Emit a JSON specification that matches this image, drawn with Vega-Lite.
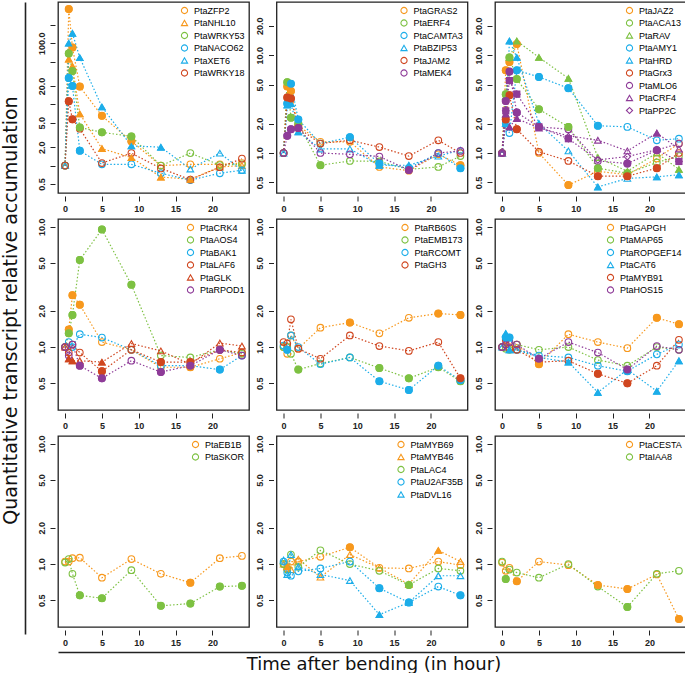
{
"$schema": "https://vega.github.io/schema/vega-lite/v6.json",
"padding": {"left": 1, "top": 1, "right": 0, "bottom": 0},
"background": "white",
"params": [{"name": "gc", "value": {
"PtaZFP2":"#F7981D","PtaNHL10":"#F7981D","PtaWRKY53":"#7DC142","PtaNACO62":"#1CADE9","PtaXET6":"#1CADE9","PtaWRKY18":"#D0461F",
"PtaGRAS2":"#F7981D","PtaERF4":"#7DC142","PtaCAMTA3":"#1CADE9","PtaBZIP53":"#1CADE9","PtaJAM2":"#D0461F","PtaMEK4":"#8E3B98",
"PtaJAZ2":"#F7981D","PtaACA13":"#7DC142","PtaRAV":"#7DC142","PtaAMY1":"#1CADE9","PtaHRD":"#1CADE9","PtaGrx3":"#D0461F","PtaMLO6":"#8E3B98","PtaCRF4":"#8E3B98","PtaPP2C":"#8E3B98",
"PtaCRK4":"#F7981D","PtaAOS4":"#7DC142","PtaBAK1":"#1CADE9","PtaLAF6":"#D0461F","PtaGLK":"#D0461F","PtaRPOD1":"#8E3B98",
"PtaRB60S":"#F7981D","PtaEMB173":"#7DC142","PtaRCOMT":"#1CADE9","PtaGH3":"#D0461F",
"PtaGAPGH":"#F7981D","PtaMAP65":"#7DC142","PtaROPGEF14":"#1CADE9","PtaCAT6":"#1CADE9","PtaMYB91":"#D0461F","PtaHOS15":"#8E3B98",
"PtaEB1B":"#F7981D","PtaSKOR":"#7DC142",
"PtaMYB69":"#F7981D","PtaMYB46":"#F7981D","PtaLAC4":"#7DC142","PtaU2AF35B":"#1CADE9","PtaDVL16":"#1CADE9",
"PtaCESTA":"#F7981D","PtaIAA8":"#7DC142"}}],
"config": {
  "view": {"stroke": "#222", "strokeWidth": 1.3},
  "axis": {"labelFont": "Liberation Sans", "labelFontSize": 9, "labelFontWeight": "bold", "labelColor": "#222", "tickColor": "#222", "tickWidth": 1},
  "legend": {"orient": "top-right", "offset": 4, "padding": 0, "labelFont": "Liberation Sans", "labelFontSize": 9, "symbolSize": 38, "symbolStrokeWidth": 1.1, "symbolFillColor": "transparent", "rowPadding": 1.5, "labelOffset": 5}
},
"datasets": {"d": [
{"p":1,"g":"PtaZFP2","t":0,"v":1,"s":0},{"p":1,"g":"PtaZFP2","t":0.5,"v":360,"s":1},{"p":1,"g":"PtaZFP2","t":1,"v":85,"s":1},{"p":1,"g":"PtaZFP2","t":2,"v":19.5,"s":1},{"p":1,"g":"PtaZFP2","t":5,"v":6.5,"s":1},{"p":1,"g":"PtaZFP2","t":9,"v":2.5,"s":1},{"p":1,"g":"PtaZFP2","t":13,"v":1.0,"s":0},{"p":1,"g":"PtaZFP2","t":17,"v":1.05,"s":0},{"p":1,"g":"PtaZFP2","t":21,"v":1.05,"s":0},{"p":1,"g":"PtaZFP2","t":24,"v":1.1,"s":0},
{"p":1,"g":"PtaNHL10","t":0,"v":1,"s":0},{"p":1,"g":"PtaNHL10","t":0.5,"v":55,"s":1},{"p":1,"g":"PtaNHL10","t":1,"v":42,"s":1},{"p":1,"g":"PtaNHL10","t":2,"v":7.0,"s":1},{"p":1,"g":"PtaNHL10","t":5,"v":1.9,"s":1},{"p":1,"g":"PtaNHL10","t":9,"v":1.35,"s":1},{"p":1,"g":"PtaNHL10","t":13,"v":0.65,"s":1},{"p":1,"g":"PtaNHL10","t":17,"v":0.6,"s":1},{"p":1,"g":"PtaNHL10","t":21,"v":0.95,"s":0},{"p":1,"g":"PtaNHL10","t":24,"v":1.0,"s":0},
{"p":1,"g":"PtaWRKY53","t":0,"v":1,"s":0},{"p":1,"g":"PtaWRKY53","t":0.5,"v":68,"s":1},{"p":1,"g":"PtaWRKY53","t":1,"v":35,"s":1},{"p":1,"g":"PtaWRKY53","t":2,"v":4.2,"s":1},{"p":1,"g":"PtaWRKY53","t":5,"v":3.5,"s":1},{"p":1,"g":"PtaWRKY53","t":9,"v":3.0,"s":1},{"p":1,"g":"PtaWRKY53","t":13,"v":1.0,"s":0},{"p":1,"g":"PtaWRKY53","t":17,"v":1.6,"s":0},{"p":1,"g":"PtaWRKY53","t":21,"v":1.02,"s":0},{"p":1,"g":"PtaWRKY53","t":24,"v":1.05,"s":0},
{"p":1,"g":"PtaNACO62","t":0,"v":1,"s":0},{"p":1,"g":"PtaNACO62","t":0.5,"v":27,"s":1},{"p":1,"g":"PtaNACO62","t":1,"v":20,"s":1},{"p":1,"g":"PtaNACO62","t":2,"v":1.75,"s":1},{"p":1,"g":"PtaNACO62","t":5,"v":1.05,"s":0},{"p":1,"g":"PtaNACO62","t":9,"v":1.05,"s":0},{"p":1,"g":"PtaNACO62","t":13,"v":0.75,"s":0},{"p":1,"g":"PtaNACO62","t":17,"v":0.58,"s":0},{"p":1,"g":"PtaNACO62","t":21,"v":0.75,"s":0},{"p":1,"g":"PtaNACO62","t":24,"v":0.84,"s":0},
{"p":1,"g":"PtaXET6","t":0,"v":1,"s":0},{"p":1,"g":"PtaXET6","t":0.5,"v":100,"s":1},{"p":1,"g":"PtaXET6","t":1,"v":145,"s":1},{"p":1,"g":"PtaXET6","t":2,"v":58,"s":1},{"p":1,"g":"PtaXET6","t":5,"v":9.1,"s":1},{"p":1,"g":"PtaXET6","t":9,"v":2.1,"s":1},{"p":1,"g":"PtaXET6","t":13,"v":2.0,"s":1},{"p":1,"g":"PtaXET6","t":17,"v":0.88,"s":0},{"p":1,"g":"PtaXET6","t":21,"v":1.6,"s":0},{"p":1,"g":"PtaXET6","t":24,"v":0.84,"s":0},
{"p":1,"g":"PtaWRKY18","t":0,"v":1,"s":0},{"p":1,"g":"PtaWRKY18","t":0.5,"v":11.3,"s":1},{"p":1,"g":"PtaWRKY18","t":1,"v":5.7,"s":1},{"p":1,"g":"PtaWRKY18","t":2,"v":4.0,"s":0},{"p":1,"g":"PtaWRKY18","t":5,"v":1.1,"s":0},{"p":1,"g":"PtaWRKY18","t":9,"v":1.6,"s":0},{"p":1,"g":"PtaWRKY18","t":13,"v":0.9,"s":0},{"p":1,"g":"PtaWRKY18","t":17,"v":0.59,"s":0},{"p":1,"g":"PtaWRKY18","t":21,"v":0.94,"s":0},{"p":1,"g":"PtaWRKY18","t":24,"v":1.3,"s":0},
{"p":2,"g":"PtaGRAS2","t":0,"v":1,"s":0},{"p":2,"g":"PtaGRAS2","t":0.5,"v":4.8,"s":1},{"p":2,"g":"PtaGRAS2","t":1,"v":4.3,"s":1},{"p":2,"g":"PtaGRAS2","t":2,"v":1.9,"s":1},{"p":2,"g":"PtaGRAS2","t":5,"v":1.3,"s":0},{"p":2,"g":"PtaGRAS2","t":9,"v":1.3,"s":0},{"p":2,"g":"PtaGRAS2","t":13,"v":0.72,"s":0},{"p":2,"g":"PtaGRAS2","t":17,"v":0.66,"s":0},{"p":2,"g":"PtaGRAS2","t":21,"v":0.97,"s":0},{"p":2,"g":"PtaGRAS2","t":24,"v":0.75,"s":1},
{"p":2,"g":"PtaERF4","t":0,"v":1,"s":0},{"p":2,"g":"PtaERF4","t":0.5,"v":5.3,"s":1},{"p":2,"g":"PtaERF4","t":1,"v":2.3,"s":1},{"p":2,"g":"PtaERF4","t":2,"v":2.0,"s":1},{"p":2,"g":"PtaERF4","t":5,"v":0.75,"s":1},{"p":2,"g":"PtaERF4","t":9,"v":0.83,"s":0},{"p":2,"g":"PtaERF4","t":13,"v":0.82,"s":0},{"p":2,"g":"PtaERF4","t":17,"v":0.68,"s":0},{"p":2,"g":"PtaERF4","t":21,"v":0.72,"s":0},{"p":2,"g":"PtaERF4","t":24,"v":0.93,"s":0},
{"p":2,"g":"PtaCAMTA3","t":0,"v":1,"s":0},{"p":2,"g":"PtaCAMTA3","t":0.5,"v":3.2,"s":1},{"p":2,"g":"PtaCAMTA3","t":1,"v":5.1,"s":1},{"p":2,"g":"PtaCAMTA3","t":2,"v":2.2,"s":1},{"p":2,"g":"PtaCAMTA3","t":5,"v":1.25,"s":0},{"p":2,"g":"PtaCAMTA3","t":9,"v":1.45,"s":1},{"p":2,"g":"PtaCAMTA3","t":13,"v":0.78,"s":1},{"p":2,"g":"PtaCAMTA3","t":17,"v":0.7,"s":1},{"p":2,"g":"PtaCAMTA3","t":21,"v":1.0,"s":0},{"p":2,"g":"PtaCAMTA3","t":24,"v":0.7,"s":1},
{"p":2,"g":"PtaBZIP53","t":0,"v":1,"s":0},{"p":2,"g":"PtaBZIP53","t":0.5,"v":3.1,"s":1},{"p":2,"g":"PtaBZIP53","t":1,"v":3.2,"s":1},{"p":2,"g":"PtaBZIP53","t":2,"v":1.65,"s":1},{"p":2,"g":"PtaBZIP53","t":5,"v":1.1,"s":0},{"p":2,"g":"PtaBZIP53","t":9,"v":1.1,"s":0},{"p":2,"g":"PtaBZIP53","t":13,"v":0.75,"s":1},{"p":2,"g":"PtaBZIP53","t":17,"v":0.75,"s":1},{"p":2,"g":"PtaBZIP53","t":21,"v":0.93,"s":0},{"p":2,"g":"PtaBZIP53","t":24,"v":1.07,"s":0},
{"p":2,"g":"PtaJAM2","t":0,"v":1,"s":0},{"p":2,"g":"PtaJAM2","t":0.5,"v":3.7,"s":1},{"p":2,"g":"PtaJAM2","t":1,"v":3.6,"s":1},{"p":2,"g":"PtaJAM2","t":2,"v":1.8,"s":1},{"p":2,"g":"PtaJAM2","t":5,"v":1.25,"s":0},{"p":2,"g":"PtaJAM2","t":9,"v":1.35,"s":0},{"p":2,"g":"PtaJAM2","t":13,"v":1.15,"s":0},{"p":2,"g":"PtaJAM2","t":17,"v":0.93,"s":0},{"p":2,"g":"PtaJAM2","t":21,"v":1.35,"s":0},{"p":2,"g":"PtaJAM2","t":24,"v":1.0,"s":0},
{"p":2,"g":"PtaMEK4","t":0,"v":1,"s":0},{"p":2,"g":"PtaMEK4","t":0.5,"v":1.5,"s":1},{"p":2,"g":"PtaMEK4","t":1,"v":1.75,"s":1},{"p":2,"g":"PtaMEK4","t":2,"v":1.8,"s":1},{"p":2,"g":"PtaMEK4","t":5,"v":1.0,"s":0},{"p":2,"g":"PtaMEK4","t":9,"v":0.97,"s":0},{"p":2,"g":"PtaMEK4","t":13,"v":0.92,"s":0},{"p":2,"g":"PtaMEK4","t":17,"v":0.67,"s":1},{"p":2,"g":"PtaMEK4","t":21,"v":1.0,"s":0},{"p":2,"g":"PtaMEK4","t":24,"v":1.05,"s":0},
{"p":3,"g":"PtaJAZ2","t":0,"v":1,"s":0},{"p":3,"g":"PtaJAZ2","t":0.5,"v":7.0,"s":1},{"p":3,"g":"PtaJAZ2","t":1,"v":8.5,"s":1},{"p":3,"g":"PtaJAZ2","t":2,"v":13,"s":1},{"p":3,"g":"PtaJAZ2","t":5,"v":1.0,"s":0},{"p":3,"g":"PtaJAZ2","t":9,"v":0.47,"s":1},{"p":3,"g":"PtaJAZ2","t":13,"v":0.65,"s":0},{"p":3,"g":"PtaJAZ2","t":17,"v":0.6,"s":0},{"p":3,"g":"PtaJAZ2","t":21,"v":0.88,"s":0},{"p":3,"g":"PtaJAZ2","t":24,"v":1.25,"s":0},
{"p":3,"g":"PtaACA13","t":0,"v":1,"s":0},{"p":3,"g":"PtaACA13","t":0.5,"v":4.0,"s":1},{"p":3,"g":"PtaACA13","t":1,"v":9.5,"s":1},{"p":3,"g":"PtaACA13","t":2,"v":5.7,"s":1},{"p":3,"g":"PtaACA13","t":5,"v":2.8,"s":1},{"p":3,"g":"PtaACA13","t":9,"v":1.85,"s":1},{"p":3,"g":"PtaACA13","t":13,"v":0.7,"s":1},{"p":3,"g":"PtaACA13","t":17,"v":0.62,"s":1},{"p":3,"g":"PtaACA13","t":21,"v":0.8,"s":0},{"p":3,"g":"PtaACA13","t":24,"v":0.93,"s":0},
{"p":3,"g":"PtaRAV","t":0,"v":1,"s":0},{"p":3,"g":"PtaRAV","t":0.5,"v":3.8,"s":1},{"p":3,"g":"PtaRAV","t":1,"v":9.5,"s":1},{"p":3,"g":"PtaRAV","t":2,"v":14,"s":1},{"p":3,"g":"PtaRAV","t":5,"v":9.5,"s":1},{"p":3,"g":"PtaRAV","t":9,"v":5.8,"s":1},{"p":3,"g":"PtaRAV","t":13,"v":0.9,"s":0},{"p":3,"g":"PtaRAV","t":17,"v":0.65,"s":0},{"p":3,"g":"PtaRAV","t":21,"v":1.0,"s":0},{"p":3,"g":"PtaRAV","t":24,"v":0.68,"s":1},
{"p":3,"g":"PtaAMY1","t":0,"v":1,"s":0},{"p":3,"g":"PtaAMY1","t":0.5,"v":2.0,"s":0},{"p":3,"g":"PtaAMY1","t":1,"v":1.6,"s":0},{"p":3,"g":"PtaAMY1","t":2,"v":7.0,"s":1},{"p":3,"g":"PtaAMY1","t":5,"v":6.0,"s":1},{"p":3,"g":"PtaAMY1","t":9,"v":4.6,"s":1},{"p":3,"g":"PtaAMY1","t":13,"v":1.9,"s":1},{"p":3,"g":"PtaAMY1","t":17,"v":1.85,"s":0},{"p":3,"g":"PtaAMY1","t":21,"v":1.35,"s":0},{"p":3,"g":"PtaAMY1","t":24,"v":1.4,"s":0},
{"p":3,"g":"PtaHRD","t":0,"v":1,"s":0},{"p":3,"g":"PtaHRD","t":0.5,"v":2.0,"s":1},{"p":3,"g":"PtaHRD","t":1,"v":14,"s":1},{"p":3,"g":"PtaHRD","t":2,"v":9.5,"s":1},{"p":3,"g":"PtaHRD","t":5,"v":2.0,"s":1},{"p":3,"g":"PtaHRD","t":9,"v":1.05,"s":0},{"p":3,"g":"PtaHRD","t":13,"v":0.45,"s":1},{"p":3,"g":"PtaHRD","t":17,"v":0.55,"s":0},{"p":3,"g":"PtaHRD","t":21,"v":0.57,"s":1},{"p":3,"g":"PtaHRD","t":24,"v":0.6,"s":1},
{"p":3,"g":"PtaGrx3","t":0,"v":1,"s":0},{"p":3,"g":"PtaGrx3","t":0.5,"v":2.2,"s":1},{"p":3,"g":"PtaGrx3","t":1,"v":3.9,"s":1},{"p":3,"g":"PtaGrx3","t":2,"v":1.75,"s":1},{"p":3,"g":"PtaGrx3","t":5,"v":1.03,"s":0},{"p":3,"g":"PtaGrx3","t":9,"v":0.83,"s":0},{"p":3,"g":"PtaGrx3","t":13,"v":0.58,"s":1},{"p":3,"g":"PtaGrx3","t":17,"v":0.58,"s":1},{"p":3,"g":"PtaGrx3","t":21,"v":0.7,"s":1},{"p":3,"g":"PtaGrx3","t":24,"v":1.0,"s":0},
{"p":3,"g":"PtaMLO6","t":0,"v":1,"s":0},{"p":3,"g":"PtaMLO6","t":0.5,"v":3.4,"s":1},{"p":3,"g":"PtaMLO6","t":1,"v":6.8,"s":1},{"p":3,"g":"PtaMLO6","t":2,"v":2.6,"s":1},{"p":3,"g":"PtaMLO6","t":5,"v":1.85,"s":1},{"p":3,"g":"PtaMLO6","t":9,"v":1.75,"s":0},{"p":3,"g":"PtaMLO6","t":13,"v":0.83,"s":0},{"p":3,"g":"PtaMLO6","t":17,"v":0.78,"s":1},{"p":3,"g":"PtaMLO6","t":21,"v":1.07,"s":1},{"p":3,"g":"PtaMLO6","t":24,"v":1.25,"s":0},
{"p":3,"g":"PtaCRF4","t":0,"v":1,"s":0},{"p":3,"g":"PtaCRF4","t":0.5,"v":2.5,"s":1},{"p":3,"g":"PtaCRF4","t":1,"v":1.85,"s":1},{"p":3,"g":"PtaCRF4","t":2,"v":2.25,"s":1},{"p":3,"g":"PtaCRF4","t":5,"v":1.8,"s":0},{"p":3,"g":"PtaCRF4","t":9,"v":1.5,"s":0},{"p":3,"g":"PtaCRF4","t":13,"v":1.35,"s":0},{"p":3,"g":"PtaCRF4","t":17,"v":1.05,"s":0},{"p":3,"g":"PtaCRF4","t":21,"v":1.6,"s":1},{"p":3,"g":"PtaCRF4","t":24,"v":1.1,"s":0},
{"p":3,"g":"PtaPP2C","t":0,"v":1,"s":0},{"p":3,"g":"PtaPP2C","t":0.5,"v":2.7,"s":1},{"p":3,"g":"PtaPP2C","t":1,"v":5.5,"s":1},{"p":3,"g":"PtaPP2C","t":2,"v":4.0,"s":1},{"p":3,"g":"PtaPP2C","t":5,"v":1.85,"s":1},{"p":3,"g":"PtaPP2C","t":9,"v":1.4,"s":1},{"p":3,"g":"PtaPP2C","t":13,"v":0.85,"s":0},{"p":3,"g":"PtaPP2C","t":17,"v":0.92,"s":0},{"p":3,"g":"PtaPP2C","t":21,"v":1.08,"s":0},{"p":3,"g":"PtaPP2C","t":24,"v":0.82,"s":1},
{"p":4,"g":"PtaCRK4","t":0,"v":1,"s":0},{"p":4,"g":"PtaCRK4","t":0.5,"v":1.4,"s":1},{"p":4,"g":"PtaCRK4","t":1,"v":2.7,"s":1},{"p":4,"g":"PtaCRK4","t":2,"v":2.25,"s":1},{"p":4,"g":"PtaCRK4","t":5,"v":1.1,"s":0},{"p":4,"g":"PtaCRK4","t":9,"v":0.95,"s":0},{"p":4,"g":"PtaCRK4","t":13,"v":0.68,"s":0},{"p":4,"g":"PtaCRK4","t":17,"v":0.68,"s":1},{"p":4,"g":"PtaCRK4","t":21,"v":0.8,"s":0},{"p":4,"g":"PtaCRK4","t":24,"v":0.9,"s":0},
{"p":4,"g":"PtaAOS4","t":0,"v":1,"s":0},{"p":4,"g":"PtaAOS4","t":0.5,"v":1.3,"s":1},{"p":4,"g":"PtaAOS4","t":1,"v":1.85,"s":1},{"p":4,"g":"PtaAOS4","t":2,"v":5.3,"s":1},{"p":4,"g":"PtaAOS4","t":5,"v":9.5,"s":1},{"p":4,"g":"PtaAOS4","t":9,"v":3.3,"s":1},{"p":4,"g":"PtaAOS4","t":13,"v":0.85,"s":0},{"p":4,"g":"PtaAOS4","t":17,"v":0.82,"s":0},{"p":4,"g":"PtaAOS4","t":21,"v":0.95,"s":0},{"p":4,"g":"PtaAOS4","t":24,"v":0.88,"s":0},
{"p":4,"g":"PtaBAK1","t":0,"v":1,"s":0},{"p":4,"g":"PtaBAK1","t":0.5,"v":1.1,"s":0},{"p":4,"g":"PtaBAK1","t":1,"v":1.0,"s":0},{"p":4,"g":"PtaBAK1","t":2,"v":1.28,"s":0},{"p":4,"g":"PtaBAK1","t":5,"v":1.2,"s":0},{"p":4,"g":"PtaBAK1","t":9,"v":0.95,"s":0},{"p":4,"g":"PtaBAK1","t":13,"v":0.7,"s":0},{"p":4,"g":"PtaBAK1","t":17,"v":0.7,"s":0},{"p":4,"g":"PtaBAK1","t":21,"v":0.65,"s":1},{"p":4,"g":"PtaBAK1","t":24,"v":0.85,"s":0},
{"p":4,"g":"PtaLAF6","t":0,"v":1,"s":0},{"p":4,"g":"PtaLAF6","t":0.5,"v":0.9,"s":0},{"p":4,"g":"PtaLAF6","t":1,"v":1.05,"s":0},{"p":4,"g":"PtaLAF6","t":2,"v":0.9,"s":0},{"p":4,"g":"PtaLAF6","t":5,"v":0.63,"s":1},{"p":4,"g":"PtaLAF6","t":9,"v":0.95,"s":0},{"p":4,"g":"PtaLAF6","t":13,"v":0.75,"s":1},{"p":4,"g":"PtaLAF6","t":17,"v":0.75,"s":1},{"p":4,"g":"PtaLAF6","t":21,"v":0.95,"s":0},{"p":4,"g":"PtaLAF6","t":24,"v":0.9,"s":0},
{"p":4,"g":"PtaGLK","t":0,"v":1,"s":0},{"p":4,"g":"PtaGLK","t":0.5,"v":0.8,"s":1},{"p":4,"g":"PtaGLK","t":1,"v":0.77,"s":1},{"p":4,"g":"PtaGLK","t":2,"v":0.77,"s":0},{"p":4,"g":"PtaGLK","t":5,"v":0.75,"s":1},{"p":4,"g":"PtaGLK","t":9,"v":1.07,"s":0},{"p":4,"g":"PtaGLK","t":13,"v":0.93,"s":0},{"p":4,"g":"PtaGLK","t":17,"v":0.72,"s":1},{"p":4,"g":"PtaGLK","t":21,"v":1.08,"s":0},{"p":4,"g":"PtaGLK","t":24,"v":1.02,"s":0},
{"p":4,"g":"PtaRPOD1","t":0,"v":1,"s":0},{"p":4,"g":"PtaRPOD1","t":0.5,"v":0.85,"s":0},{"p":4,"g":"PtaRPOD1","t":1,"v":1.05,"s":0},{"p":4,"g":"PtaRPOD1","t":2,"v":0.7,"s":1},{"p":4,"g":"PtaRPOD1","t":5,"v":0.55,"s":1},{"p":4,"g":"PtaRPOD1","t":9,"v":0.77,"s":0},{"p":4,"g":"PtaRPOD1","t":13,"v":0.62,"s":1},{"p":4,"g":"PtaRPOD1","t":17,"v":0.7,"s":1},{"p":4,"g":"PtaRPOD1","t":21,"v":0.95,"s":1},{"p":4,"g":"PtaRPOD1","t":24,"v":0.85,"s":0},
{"p":5,"g":"PtaRB60S","t":0,"v":1,"s":0},{"p":5,"g":"PtaRB60S","t":0.5,"v":0.88,"s":0},{"p":5,"g":"PtaRB60S","t":1,"v":1.25,"s":0},{"p":5,"g":"PtaRB60S","t":2,"v":0.97,"s":0},{"p":5,"g":"PtaRB60S","t":5,"v":1.45,"s":0},{"p":5,"g":"PtaRB60S","t":9,"v":1.6,"s":1},{"p":5,"g":"PtaRB60S","t":13,"v":1.3,"s":0},{"p":5,"g":"PtaRB60S","t":17,"v":1.75,"s":0},{"p":5,"g":"PtaRB60S","t":21,"v":1.9,"s":1},{"p":5,"g":"PtaRB60S","t":24,"v":1.85,"s":1},
{"p":5,"g":"PtaEMB173","t":0,"v":1,"s":0},{"p":5,"g":"PtaEMB173","t":0.5,"v":1.0,"s":0},{"p":5,"g":"PtaEMB173","t":1,"v":0.88,"s":0},{"p":5,"g":"PtaEMB173","t":2,"v":0.65,"s":1},{"p":5,"g":"PtaEMB173","t":5,"v":0.73,"s":0},{"p":5,"g":"PtaEMB173","t":9,"v":0.82,"s":0},{"p":5,"g":"PtaEMB173","t":13,"v":0.67,"s":1},{"p":5,"g":"PtaEMB173","t":17,"v":0.55,"s":1},{"p":5,"g":"PtaEMB173","t":21,"v":0.68,"s":1},{"p":5,"g":"PtaEMB173","t":24,"v":0.52,"s":1},
{"p":5,"g":"PtaRCOMT","t":0,"v":1.03,"s":0},{"p":5,"g":"PtaRCOMT","t":0.5,"v":0.95,"s":1},{"p":5,"g":"PtaRCOMT","t":1,"v":1.25,"s":0},{"p":5,"g":"PtaRCOMT","t":2,"v":1.0,"s":0},{"p":5,"g":"PtaRCOMT","t":5,"v":0.72,"s":0},{"p":5,"g":"PtaRCOMT","t":9,"v":0.82,"s":0},{"p":5,"g":"PtaRCOMT","t":13,"v":0.52,"s":1},{"p":5,"g":"PtaRCOMT","t":17,"v":0.44,"s":1},{"p":5,"g":"PtaRCOMT","t":21,"v":0.7,"s":1},{"p":5,"g":"PtaRCOMT","t":24,"v":0.53,"s":1},
{"p":5,"g":"PtaGH3","t":0,"v":1.1,"s":0},{"p":5,"g":"PtaGH3","t":0.5,"v":1.07,"s":0},{"p":5,"g":"PtaGH3","t":1,"v":1.7,"s":0},{"p":5,"g":"PtaGH3","t":2,"v":0.97,"s":0},{"p":5,"g":"PtaGH3","t":5,"v":0.8,"s":0},{"p":5,"g":"PtaGH3","t":9,"v":1.25,"s":0},{"p":5,"g":"PtaGH3","t":13,"v":1.02,"s":0},{"p":5,"g":"PtaGH3","t":17,"v":0.93,"s":0},{"p":5,"g":"PtaGH3","t":21,"v":1.1,"s":0},{"p":5,"g":"PtaGH3","t":24,"v":0.55,"s":1},
{"p":6,"g":"PtaGAPGH","t":0,"v":1,"s":0},{"p":6,"g":"PtaGAPGH","t":0.5,"v":1.0,"s":0},{"p":6,"g":"PtaGAPGH","t":1,"v":1.0,"s":0},{"p":6,"g":"PtaGAPGH","t":2,"v":1.05,"s":0},{"p":6,"g":"PtaGAPGH","t":5,"v":0.72,"s":1},{"p":6,"g":"PtaGAPGH","t":9,"v":1.28,"s":0},{"p":6,"g":"PtaGAPGH","t":13,"v":1.1,"s":0},{"p":6,"g":"PtaGAPGH","t":17,"v":0.98,"s":0},{"p":6,"g":"PtaGAPGH","t":21,"v":1.75,"s":1},{"p":6,"g":"PtaGAPGH","t":24,"v":1.55,"s":1},
{"p":6,"g":"PtaMAP65","t":0,"v":1,"s":0},{"p":6,"g":"PtaMAP65","t":0.5,"v":0.97,"s":0},{"p":6,"g":"PtaMAP65","t":1,"v":0.95,"s":0},{"p":6,"g":"PtaMAP65","t":2,"v":1.05,"s":0},{"p":6,"g":"PtaMAP65","t":5,"v":0.95,"s":0},{"p":6,"g":"PtaMAP65","t":9,"v":1.0,"s":0},{"p":6,"g":"PtaMAP65","t":13,"v":0.78,"s":0},{"p":6,"g":"PtaMAP65","t":17,"v":0.7,"s":0},{"p":6,"g":"PtaMAP65","t":21,"v":1.0,"s":0},{"p":6,"g":"PtaMAP65","t":24,"v":0.95,"s":0},
{"p":6,"g":"PtaROPGEF14","t":0,"v":1,"s":0},{"p":6,"g":"PtaROPGEF14","t":0.5,"v":1.2,"s":1},{"p":6,"g":"PtaROPGEF14","t":1,"v":1.2,"s":1},{"p":6,"g":"PtaROPGEF14","t":2,"v":0.95,"s":0},{"p":6,"g":"PtaROPGEF14","t":5,"v":0.85,"s":0},{"p":6,"g":"PtaROPGEF14","t":9,"v":0.82,"s":0},{"p":6,"g":"PtaROPGEF14","t":13,"v":0.7,"s":0},{"p":6,"g":"PtaROPGEF14","t":17,"v":0.63,"s":1},{"p":6,"g":"PtaROPGEF14","t":21,"v":0.87,"s":0},{"p":6,"g":"PtaROPGEF14","t":24,"v":1.05,"s":0},
{"p":6,"g":"PtaCAT6","t":0,"v":1,"s":0},{"p":6,"g":"PtaCAT6","t":0.5,"v":1.3,"s":1},{"p":6,"g":"PtaCAT6","t":1,"v":0.95,"s":1},{"p":6,"g":"PtaCAT6","t":2,"v":0.95,"s":0},{"p":6,"g":"PtaCAT6","t":5,"v":0.82,"s":0},{"p":6,"g":"PtaCAT6","t":9,"v":0.75,"s":1},{"p":6,"g":"PtaCAT6","t":13,"v":0.42,"s":1},{"p":6,"g":"PtaCAT6","t":17,"v":0.65,"s":1},{"p":6,"g":"PtaCAT6","t":21,"v":0.43,"s":1},{"p":6,"g":"PtaCAT6","t":24,"v":0.77,"s":1},
{"p":6,"g":"PtaMYB91","t":0,"v":1,"s":0},{"p":6,"g":"PtaMYB91","t":0.5,"v":1.15,"s":0},{"p":6,"g":"PtaMYB91","t":1,"v":0.98,"s":0},{"p":6,"g":"PtaMYB91","t":2,"v":0.95,"s":0},{"p":6,"g":"PtaMYB91","t":5,"v":0.75,"s":0},{"p":6,"g":"PtaMYB91","t":9,"v":0.77,"s":0},{"p":6,"g":"PtaMYB91","t":13,"v":0.6,"s":1},{"p":6,"g":"PtaMYB91","t":17,"v":0.5,"s":1},{"p":6,"g":"PtaMYB91","t":21,"v":0.7,"s":0},{"p":6,"g":"PtaMYB91","t":24,"v":1.15,"s":0},
{"p":6,"g":"PtaHOS15","t":0,"v":1,"s":0},{"p":6,"g":"PtaHOS15","t":0.5,"v":1.05,"s":0},{"p":6,"g":"PtaHOS15","t":1,"v":1.1,"s":0},{"p":6,"g":"PtaHOS15","t":2,"v":1.05,"s":0},{"p":6,"g":"PtaHOS15","t":5,"v":0.8,"s":1},{"p":6,"g":"PtaHOS15","t":9,"v":1.1,"s":0},{"p":6,"g":"PtaHOS15","t":13,"v":0.9,"s":0},{"p":6,"g":"PtaHOS15","t":17,"v":0.65,"s":1},{"p":6,"g":"PtaHOS15","t":21,"v":1.02,"s":0},{"p":6,"g":"PtaHOS15","t":24,"v":0.95,"s":0},
{"p":7,"g":"PtaEB1B","t":0,"v":1.05,"s":0},{"p":7,"g":"PtaEB1B","t":0.5,"v":1.05,"s":0},{"p":7,"g":"PtaEB1B","t":1,"v":1.12,"s":0},{"p":7,"g":"PtaEB1B","t":2,"v":1.13,"s":0},{"p":7,"g":"PtaEB1B","t":5,"v":0.77,"s":0},{"p":7,"g":"PtaEB1B","t":9,"v":1.1,"s":0},{"p":7,"g":"PtaEB1B","t":13,"v":0.83,"s":0},{"p":7,"g":"PtaEB1B","t":17,"v":0.7,"s":1},{"p":7,"g":"PtaEB1B","t":21,"v":1.12,"s":0},{"p":7,"g":"PtaEB1B","t":24,"v":1.17,"s":0},
{"p":7,"g":"PtaSKOR","t":0,"v":1.03,"s":0},{"p":7,"g":"PtaSKOR","t":0.5,"v":1.1,"s":0},{"p":7,"g":"PtaSKOR","t":1,"v":0.83,"s":0},{"p":7,"g":"PtaSKOR","t":2,"v":0.55,"s":1},{"p":7,"g":"PtaSKOR","t":5,"v":0.52,"s":1},{"p":7,"g":"PtaSKOR","t":9,"v":0.89,"s":0},{"p":7,"g":"PtaSKOR","t":13,"v":0.45,"s":1},{"p":7,"g":"PtaSKOR","t":17,"v":0.47,"s":1},{"p":7,"g":"PtaSKOR","t":21,"v":0.65,"s":1},{"p":7,"g":"PtaSKOR","t":24,"v":0.66,"s":1},
{"p":8,"g":"PtaMYB69","t":0,"v":1,"s":0},{"p":8,"g":"PtaMYB69","t":0.5,"v":0.92,"s":0},{"p":8,"g":"PtaMYB69","t":1,"v":1.05,"s":0},{"p":8,"g":"PtaMYB69","t":2,"v":1.05,"s":0},{"p":8,"g":"PtaMYB69","t":5,"v":1.15,"s":0},{"p":8,"g":"PtaMYB69","t":9,"v":1.38,"s":1},{"p":8,"g":"PtaMYB69","t":13,"v":0.93,"s":0},{"p":8,"g":"PtaMYB69","t":17,"v":0.92,"s":0},{"p":8,"g":"PtaMYB69","t":21,"v":1.05,"s":0},{"p":8,"g":"PtaMYB69","t":24,"v":0.98,"s":0},
{"p":8,"g":"PtaMYB46","t":0,"v":1,"s":0},{"p":8,"g":"PtaMYB46","t":0.5,"v":0.95,"s":1},{"p":8,"g":"PtaMYB46","t":1,"v":0.9,"s":0},{"p":8,"g":"PtaMYB46","t":2,"v":1.1,"s":0},{"p":8,"g":"PtaMYB46","t":5,"v":0.78,"s":0},{"p":8,"g":"PtaMYB46","t":9,"v":1.2,"s":0},{"p":8,"g":"PtaMYB46","t":13,"v":0.93,"s":0},{"p":8,"g":"PtaMYB46","t":17,"v":0.68,"s":1},{"p":8,"g":"PtaMYB46","t":21,"v":1.3,"s":1},{"p":8,"g":"PtaMYB46","t":24,"v":1.05,"s":0},
{"p":8,"g":"PtaLAC4","t":0,"v":1,"s":0},{"p":8,"g":"PtaLAC4","t":0.5,"v":0.9,"s":0},{"p":8,"g":"PtaLAC4","t":1,"v":1.2,"s":0},{"p":8,"g":"PtaLAC4","t":2,"v":0.95,"s":0},{"p":8,"g":"PtaLAC4","t":5,"v":1.3,"s":0},{"p":8,"g":"PtaLAC4","t":9,"v":1.0,"s":0},{"p":8,"g":"PtaLAC4","t":13,"v":0.88,"s":0},{"p":8,"g":"PtaLAC4","t":17,"v":0.67,"s":1},{"p":8,"g":"PtaLAC4","t":21,"v":0.92,"s":0},{"p":8,"g":"PtaLAC4","t":24,"v":0.88,"s":0},
{"p":8,"g":"PtaU2AF35B","t":0,"v":1.05,"s":0},{"p":8,"g":"PtaU2AF35B","t":0.5,"v":0.85,"s":0},{"p":8,"g":"PtaU2AF35B","t":1,"v":0.8,"s":0},{"p":8,"g":"PtaU2AF35B","t":2,"v":0.87,"s":0},{"p":8,"g":"PtaU2AF35B","t":5,"v":0.92,"s":0},{"p":8,"g":"PtaU2AF35B","t":9,"v":1.05,"s":0},{"p":8,"g":"PtaU2AF35B","t":13,"v":0.63,"s":1},{"p":8,"g":"PtaU2AF35B","t":17,"v":0.48,"s":1},{"p":8,"g":"PtaU2AF35B","t":21,"v":0.65,"s":0},{"p":8,"g":"PtaU2AF35B","t":24,"v":0.55,"s":1},
{"p":8,"g":"PtaDVL16","t":0,"v":1.08,"s":0},{"p":8,"g":"PtaDVL16","t":0.5,"v":0.82,"s":0},{"p":8,"g":"PtaDVL16","t":1,"v":1.2,"s":0},{"p":8,"g":"PtaDVL16","t":2,"v":0.95,"s":0},{"p":8,"g":"PtaDVL16","t":5,"v":0.82,"s":0},{"p":8,"g":"PtaDVL16","t":9,"v":0.73,"s":0},{"p":8,"g":"PtaDVL16","t":13,"v":0.38,"s":1},{"p":8,"g":"PtaDVL16","t":17,"v":0.48,"s":1},{"p":8,"g":"PtaDVL16","t":21,"v":0.8,"s":0},{"p":8,"g":"PtaDVL16","t":24,"v":0.8,"s":0},
{"p":9,"g":"PtaCESTA","t":0,"v":1.03,"s":0},{"p":9,"g":"PtaCESTA","t":0.5,"v":0.88,"s":0},{"p":9,"g":"PtaCESTA","t":1,"v":0.93,"s":0},{"p":9,"g":"PtaCESTA","t":2,"v":0.72,"s":1},{"p":9,"g":"PtaCESTA","t":5,"v":1.05,"s":0},{"p":9,"g":"PtaCESTA","t":9,"v":0.98,"s":0},{"p":9,"g":"PtaCESTA","t":13,"v":0.67,"s":1},{"p":9,"g":"PtaCESTA","t":17,"v":0.62,"s":1},{"p":9,"g":"PtaCESTA","t":21,"v":0.82,"s":0},{"p":9,"g":"PtaCESTA","t":24,"v":0.35,"s":1},
{"p":9,"g":"PtaIAA8","t":0,"v":1.05,"s":0},{"p":9,"g":"PtaIAA8","t":0.5,"v":0.75,"s":1},{"p":9,"g":"PtaIAA8","t":1,"v":0.9,"s":0},{"p":9,"g":"PtaIAA8","t":2,"v":0.85,"s":0},{"p":9,"g":"PtaIAA8","t":5,"v":0.77,"s":0},{"p":9,"g":"PtaIAA8","t":9,"v":1.0,"s":0},{"p":9,"g":"PtaIAA8","t":13,"v":0.65,"s":0},{"p":9,"g":"PtaIAA8","t":17,"v":0.44,"s":1},{"p":9,"g":"PtaIAA8","t":21,"v":0.83,"s":0},{"p":9,"g":"PtaIAA8","t":24,"v":0.88,"s":0}
]},
"spacing": 7,
"hconcat": [
{"width": 1, "height": 632, "data": {"values": [{"k": 0}]}, "mark": {"type": "point", "opacity": 0},
 "encoding": {"y": {"field": "k", "type": "quantitative", "scale": {"domain": [0, 1]}, "axis": {"title": "Quantitative transcript relative accumulation", "domain": true, "domainColor": "#222", "domainWidth": 1.6, "ticks": false, "labels": false, "grid": false, "titleFont": "DejaVu Sans", "titleFontSize": 19, "titleFontWeight": "normal", "titleColor": "#111", "titlePadding": 5, "titleY": 308}}},
 "view": {"stroke": null}},
{"spacing": 1, "vconcat": [
{"columns": 3, "spacing": {"row": 26, "column": 27.5}, "bounds": "flush",
 "resolve": {"scale": {"color": "independent", "shape": "independent", "stroke": "independent", "x": "independent", "y": "independent"}, "legend": {"color": "independent", "shape": "independent", "stroke": "independent"}},
 "concat": [
{"width": 191, "height": 191, "data": {"name": "d"},
 "resolve": {"legend": {"color": "independent", "shape": "independent", "stroke": "independent"}},
 "encoding": {
  "x": {"field": "t", "type": "quantitative", "scale": {"domain": [-0.96, 24.96], "nice": false, "zero": false}, "axis": {"values": [0, 5, 10, 15, 20], "title": null, "offset": 3, "tickSize": 5, "labelPadding": 3, "domain": false, "grid": false, "labelFlush": false, "labelOverlap": false}},
  "y": {"field": "v", "type": "quantitative", "scale": {"type": "log", "domain": [0.357, 470], "nice": false}, "axis": {"values": [0.5, 1, 2, 5, 10, 20, 50, 100, 200], "labelExpr": "indexof([0.5,2,5,20,100], datum.value) >= 0 ? format(datum.value, '.1f') : ''", "title": null, "offset": 3, "tickSize": 5, "labelPadding": 4, "domain": false, "grid": false, "labelAngle": 270, "labelAlign": "center", "labelBaseline": "bottom", "labelOverlap": false, "labelFlush": false}}},
 "layer": [
  {"data": {"values": [{}]}, "mark": {"type": "rule", "strokeDash": [2, 2], "strokeWidth": 1}, "encoding": {"x": {"datum": -0.96}, "x2": {"datum": 24.96}, "y": {"datum": 1}, "color": {"value": "#aaaaaa"}}},
  {"transform": [{"filter": "datum.p==1"}], "mark": {"type": "line", "strokeDash": [1.5, 2], "strokeWidth": 1.2},
   "encoding": {"color": {"field": "g", "type": "nominal", "scale": {"domain": ["PtaZFP2","PtaNHL10","PtaWRKY53","PtaNACO62","PtaXET6","PtaWRKY18"], "range": ["#F7981D","#F7981D","#7DC142","#1CADE9","#1CADE9","#D0461F"]}, "legend": null}}},
  {"transform": [{"filter": "datum.p==1"}], "mark": {"type": "point", "size": 44, "strokeWidth": 1.1, "opacity": 1},
   "encoding": {"fill": {"value": "transparent"},
    "stroke": {"field": "g", "type": "nominal", "title": null, "scale": {"domain": ["PtaZFP2","PtaNHL10","PtaWRKY53","PtaNACO62","PtaXET6","PtaWRKY18"], "range": ["#F7981D","#F7981D","#7DC142","#1CADE9","#1CADE9","#D0461F"]}, "legend": {"encode": {"labels": {"update": {"fill": {"signal": "gc[datum.value]"}}}}}},
    "shape": {"field": "g", "type": "nominal", "title": null, "scale": {"domain": ["PtaZFP2","PtaNHL10","PtaWRKY53","PtaNACO62","PtaXET6","PtaWRKY18"], "range": ["circle","triangle-up","circle","circle","triangle-up","circle"]}, "legend": {"encode": {"labels": {"update": {"fill": {"signal": "gc[datum.value]"}}}}}}}},
  {"transform": [{"filter": "datum.p==1 && datum.s==1"}], "mark": {"type": "point", "filled": true, "size": 64, "opacity": 1},
   "encoding": {"color": {"field": "g", "type": "nominal", "legend": null}, "shape": {"field": "g", "type": "nominal", "legend": null}}}
 ]},
{"width": 191, "height": 191, "data": {"name": "d"},
 "resolve": {"legend": {"color": "independent", "shape": "independent", "stroke": "independent"}},
 "encoding": {
  "x": {"field": "t", "type": "quantitative", "scale": {"domain": [-0.96, 24.96], "nice": false, "zero": false}, "axis": {"values": [0, 5, 10, 15, 20], "title": null, "offset": 3, "tickSize": 5, "labelPadding": 3, "domain": false, "grid": false, "labelFlush": false, "labelOverlap": false}},
  "y": {"field": "v", "type": "quantitative", "scale": {"type": "log", "domain": [0.39, 35], "nice": false}, "axis": {"values": [0.5, 1, 2, 5, 10, 20], "format": ".1f", "title": null, "offset": 3, "tickSize": 5, "labelPadding": 4, "domain": false, "grid": false, "labelAngle": 270, "labelAlign": "center", "labelBaseline": "bottom", "labelOverlap": false, "labelFlush": false}}},
 "layer": [
  {"data": {"values": [{}]}, "mark": {"type": "rule", "strokeDash": [2, 2], "strokeWidth": 1}, "encoding": {"x": {"datum": -0.96}, "x2": {"datum": 24.96}, "y": {"datum": 1}, "color": {"value": "#aaaaaa"}}},
  {"transform": [{"filter": "datum.p==2"}], "mark": {"type": "line", "strokeDash": [1.5, 2], "strokeWidth": 1.2},
   "encoding": {"color": {"field": "g", "type": "nominal", "scale": {"domain": ["PtaGRAS2","PtaERF4","PtaCAMTA3","PtaBZIP53","PtaJAM2","PtaMEK4"], "range": ["#F7981D","#7DC142","#1CADE9","#1CADE9","#D0461F","#8E3B98"]}, "legend": null}}},
  {"transform": [{"filter": "datum.p==2"}], "mark": {"type": "point", "size": 44, "strokeWidth": 1.1, "opacity": 1},
   "encoding": {"fill": {"value": "transparent"},
    "stroke": {"field": "g", "type": "nominal", "title": null, "scale": {"domain": ["PtaGRAS2","PtaERF4","PtaCAMTA3","PtaBZIP53","PtaJAM2","PtaMEK4"], "range": ["#F7981D","#7DC142","#1CADE9","#1CADE9","#D0461F","#8E3B98"]}, "legend": {"encode": {"labels": {"update": {"fill": {"signal": "gc[datum.value]"}}}}}},
    "shape": {"field": "g", "type": "nominal", "title": null, "scale": {"domain": ["PtaGRAS2","PtaERF4","PtaCAMTA3","PtaBZIP53","PtaJAM2","PtaMEK4"], "range": ["circle","circle","circle","triangle-up","circle","circle"]}, "legend": {"encode": {"labels": {"update": {"fill": {"signal": "gc[datum.value]"}}}}}}}},
  {"transform": [{"filter": "datum.p==2 && datum.s==1"}], "mark": {"type": "point", "filled": true, "size": 64, "opacity": 1},
   "encoding": {"color": {"field": "g", "type": "nominal", "legend": null}, "shape": {"field": "g", "type": "nominal", "legend": null}}}
 ]},
{"width": 191, "height": 191, "data": {"name": "d"},
 "resolve": {"legend": {"color": "independent", "shape": "independent", "stroke": "independent"}},
 "encoding": {
  "x": {"field": "t", "type": "quantitative", "scale": {"domain": [-0.96, 24.96], "nice": false, "zero": false}, "axis": {"values": [0, 5, 10, 15, 20], "title": null, "offset": 3, "tickSize": 5, "labelPadding": 3, "domain": false, "grid": false, "labelFlush": false, "labelOverlap": false}},
  "y": {"field": "v", "type": "quantitative", "scale": {"type": "log", "domain": [0.39, 35], "nice": false}, "axis": {"values": [0.5, 1, 2, 5, 10, 20], "format": ".1f", "title": null, "offset": 3, "tickSize": 5, "labelPadding": 4, "domain": false, "grid": false, "labelAngle": 270, "labelAlign": "center", "labelBaseline": "bottom", "labelOverlap": false, "labelFlush": false}}},
 "layer": [
  {"data": {"values": [{}]}, "mark": {"type": "rule", "strokeDash": [2, 2], "strokeWidth": 1}, "encoding": {"x": {"datum": -0.96}, "x2": {"datum": 24.96}, "y": {"datum": 1}, "color": {"value": "#aaaaaa"}}},
  {"transform": [{"filter": "datum.p==3"}], "mark": {"type": "line", "strokeDash": [1.5, 2], "strokeWidth": 1.2},
   "encoding": {"color": {"field": "g", "type": "nominal", "scale": {"domain": ["PtaJAZ2","PtaACA13","PtaRAV","PtaAMY1","PtaHRD","PtaGrx3","PtaMLO6","PtaCRF4","PtaPP2C"], "range": ["#F7981D","#7DC142","#7DC142","#1CADE9","#1CADE9","#D0461F","#8E3B98","#8E3B98","#8E3B98"]}, "legend": null}}},
  {"transform": [{"filter": "datum.p==3"}], "mark": {"type": "point", "size": 44, "strokeWidth": 1.1, "opacity": 1},
   "encoding": {"fill": {"value": "transparent"},
    "stroke": {"field": "g", "type": "nominal", "title": null, "scale": {"domain": ["PtaJAZ2","PtaACA13","PtaRAV","PtaAMY1","PtaHRD","PtaGrx3","PtaMLO6","PtaCRF4","PtaPP2C"], "range": ["#F7981D","#7DC142","#7DC142","#1CADE9","#1CADE9","#D0461F","#8E3B98","#8E3B98","#8E3B98"]}, "legend": {"encode": {"labels": {"update": {"fill": {"signal": "gc[datum.value]"}}}}}},
    "shape": {"field": "g", "type": "nominal", "title": null, "scale": {"domain": ["PtaJAZ2","PtaACA13","PtaRAV","PtaAMY1","PtaHRD","PtaGrx3","PtaMLO6","PtaCRF4","PtaPP2C"], "range": ["circle","circle","triangle-up","circle","triangle-up","circle","circle","triangle-up","diamond"]}, "legend": {"encode": {"labels": {"update": {"fill": {"signal": "gc[datum.value]"}}}}}}}},
  {"transform": [{"filter": "datum.p==3 && datum.s==1 && datum.g!='PtaPP2C'"}], "mark": {"type": "point", "filled": true, "size": 64, "opacity": 1},
   "encoding": {"color": {"field": "g", "type": "nominal", "legend": null}, "shape": {"field": "g", "type": "nominal", "legend": null}}},
  {"transform": [{"filter": "datum.p==3 && datum.s==1 && datum.g=='PtaPP2C'"}], "mark": {"type": "square", "filled": true, "size": 52, "opacity": 1},
   "encoding": {"color": {"field": "g", "type": "nominal", "legend": null}}}
 ]},
{"width": 191, "height": 191, "data": {"name": "d"},
 "resolve": {"legend": {"color": "independent", "shape": "independent", "stroke": "independent"}},
 "encoding": {
  "x": {"field": "t", "type": "quantitative", "scale": {"domain": [-0.96, 24.96], "nice": false, "zero": false}, "axis": {"values": [0, 5, 10, 15, 20], "title": null, "offset": 3, "tickSize": 5, "labelPadding": 3, "domain": false, "grid": false, "labelFlush": false, "labelOverlap": false}},
  "y": {"field": "v", "type": "quantitative", "scale": {"type": "log", "domain": [0.3, 11.6], "nice": false}, "axis": {"values": [0.5, 1, 2, 5, 10], "format": ".1f", "title": null, "offset": 3, "tickSize": 5, "labelPadding": 4, "domain": false, "grid": false, "labelAngle": 270, "labelAlign": "center", "labelBaseline": "bottom", "labelOverlap": false, "labelFlush": false}}},
 "layer": [
  {"data": {"values": [{}]}, "mark": {"type": "rule", "strokeDash": [2, 2], "strokeWidth": 1}, "encoding": {"x": {"datum": -0.96}, "x2": {"datum": 24.96}, "y": {"datum": 1}, "color": {"value": "#aaaaaa"}}},
  {"transform": [{"filter": "datum.p==4"}], "mark": {"type": "line", "strokeDash": [1.5, 2], "strokeWidth": 1.2},
   "encoding": {"color": {"field": "g", "type": "nominal", "scale": {"domain": ["PtaCRK4","PtaAOS4","PtaBAK1","PtaLAF6","PtaGLK","PtaRPOD1"], "range": ["#F7981D","#7DC142","#1CADE9","#D0461F","#D0461F","#8E3B98"]}, "legend": null}}},
  {"transform": [{"filter": "datum.p==4"}], "mark": {"type": "point", "size": 44, "strokeWidth": 1.1, "opacity": 1},
   "encoding": {"fill": {"value": "transparent"},
    "stroke": {"field": "g", "type": "nominal", "title": null, "scale": {"domain": ["PtaCRK4","PtaAOS4","PtaBAK1","PtaLAF6","PtaGLK","PtaRPOD1"], "range": ["#F7981D","#7DC142","#1CADE9","#D0461F","#D0461F","#8E3B98"]}, "legend": {"encode": {"labels": {"update": {"fill": {"signal": "gc[datum.value]"}}}}}},
    "shape": {"field": "g", "type": "nominal", "title": null, "scale": {"domain": ["PtaCRK4","PtaAOS4","PtaBAK1","PtaLAF6","PtaGLK","PtaRPOD1"], "range": ["circle","circle","circle","circle","triangle-up","circle"]}, "legend": {"encode": {"labels": {"update": {"fill": {"signal": "gc[datum.value]"}}}}}}}},
  {"transform": [{"filter": "datum.p==4 && datum.s==1"}], "mark": {"type": "point", "filled": true, "size": 64, "opacity": 1},
   "encoding": {"color": {"field": "g", "type": "nominal", "legend": null}, "shape": {"field": "g", "type": "nominal", "legend": null}}}
 ]},
{"width": 191, "height": 191, "data": {"name": "d"},
 "resolve": {"legend": {"color": "independent", "shape": "independent", "stroke": "independent"}},
 "encoding": {
  "x": {"field": "t", "type": "quantitative", "scale": {"domain": [-0.96, 24.96], "nice": false, "zero": false}, "axis": {"values": [0, 5, 10, 15, 20], "title": null, "offset": 3, "tickSize": 5, "labelPadding": 3, "domain": false, "grid": false, "labelFlush": false, "labelOverlap": false}},
  "y": {"field": "v", "type": "quantitative", "scale": {"type": "log", "domain": [0.3, 11.6], "nice": false}, "axis": {"values": [0.5, 1, 2, 5, 10], "format": ".1f", "title": null, "offset": 3, "tickSize": 5, "labelPadding": 4, "domain": false, "grid": false, "labelAngle": 270, "labelAlign": "center", "labelBaseline": "bottom", "labelOverlap": false, "labelFlush": false}}},
 "layer": [
  {"data": {"values": [{}]}, "mark": {"type": "rule", "strokeDash": [2, 2], "strokeWidth": 1}, "encoding": {"x": {"datum": -0.96}, "x2": {"datum": 24.96}, "y": {"datum": 1}, "color": {"value": "#aaaaaa"}}},
  {"transform": [{"filter": "datum.p==5"}], "mark": {"type": "line", "strokeDash": [1.5, 2], "strokeWidth": 1.2},
   "encoding": {"color": {"field": "g", "type": "nominal", "scale": {"domain": ["PtaRB60S","PtaEMB173","PtaRCOMT","PtaGH3"], "range": ["#F7981D","#7DC142","#1CADE9","#D0461F"]}, "legend": null}}},
  {"transform": [{"filter": "datum.p==5"}], "mark": {"type": "point", "size": 44, "strokeWidth": 1.1, "opacity": 1},
   "encoding": {"fill": {"value": "transparent"},
    "stroke": {"field": "g", "type": "nominal", "title": null, "scale": {"domain": ["PtaRB60S","PtaEMB173","PtaRCOMT","PtaGH3"], "range": ["#F7981D","#7DC142","#1CADE9","#D0461F"]}, "legend": {"encode": {"labels": {"update": {"fill": {"signal": "gc[datum.value]"}}}}}},
    "shape": {"field": "g", "type": "nominal", "title": null, "scale": {"domain": ["PtaRB60S","PtaEMB173","PtaRCOMT","PtaGH3"], "range": ["circle","circle","circle","circle"]}, "legend": {"encode": {"labels": {"update": {"fill": {"signal": "gc[datum.value]"}}}}}}}},
  {"transform": [{"filter": "datum.p==5 && datum.s==1"}], "mark": {"type": "point", "filled": true, "size": 64, "opacity": 1},
   "encoding": {"color": {"field": "g", "type": "nominal", "legend": null}, "shape": {"field": "g", "type": "nominal", "legend": null}}}
 ]},
{"width": 191, "height": 191, "data": {"name": "d"},
 "resolve": {"legend": {"color": "independent", "shape": "independent", "stroke": "independent"}},
 "encoding": {
  "x": {"field": "t", "type": "quantitative", "scale": {"domain": [-0.96, 24.96], "nice": false, "zero": false}, "axis": {"values": [0, 5, 10, 15, 20], "title": null, "offset": 3, "tickSize": 5, "labelPadding": 3, "domain": false, "grid": false, "labelFlush": false, "labelOverlap": false}},
  "y": {"field": "v", "type": "quantitative", "scale": {"type": "log", "domain": [0.3, 11.6], "nice": false}, "axis": {"values": [0.5, 1, 2, 5, 10], "format": ".1f", "title": null, "offset": 3, "tickSize": 5, "labelPadding": 4, "domain": false, "grid": false, "labelAngle": 270, "labelAlign": "center", "labelBaseline": "bottom", "labelOverlap": false, "labelFlush": false}}},
 "layer": [
  {"data": {"values": [{}]}, "mark": {"type": "rule", "strokeDash": [2, 2], "strokeWidth": 1}, "encoding": {"x": {"datum": -0.96}, "x2": {"datum": 24.96}, "y": {"datum": 1}, "color": {"value": "#aaaaaa"}}},
  {"transform": [{"filter": "datum.p==6"}], "mark": {"type": "line", "strokeDash": [1.5, 2], "strokeWidth": 1.2},
   "encoding": {"color": {"field": "g", "type": "nominal", "scale": {"domain": ["PtaGAPGH","PtaMAP65","PtaROPGEF14","PtaCAT6","PtaMYB91","PtaHOS15"], "range": ["#F7981D","#7DC142","#1CADE9","#1CADE9","#D0461F","#8E3B98"]}, "legend": null}}},
  {"transform": [{"filter": "datum.p==6"}], "mark": {"type": "point", "size": 44, "strokeWidth": 1.1, "opacity": 1},
   "encoding": {"fill": {"value": "transparent"},
    "stroke": {"field": "g", "type": "nominal", "title": null, "scale": {"domain": ["PtaGAPGH","PtaMAP65","PtaROPGEF14","PtaCAT6","PtaMYB91","PtaHOS15"], "range": ["#F7981D","#7DC142","#1CADE9","#1CADE9","#D0461F","#8E3B98"]}, "legend": {"encode": {"labels": {"update": {"fill": {"signal": "gc[datum.value]"}}}}}},
    "shape": {"field": "g", "type": "nominal", "title": null, "scale": {"domain": ["PtaGAPGH","PtaMAP65","PtaROPGEF14","PtaCAT6","PtaMYB91","PtaHOS15"], "range": ["circle","circle","circle","triangle-up","circle","circle"]}, "legend": {"encode": {"labels": {"update": {"fill": {"signal": "gc[datum.value]"}}}}}}}},
  {"transform": [{"filter": "datum.p==6 && datum.s==1"}], "mark": {"type": "point", "filled": true, "size": 64, "opacity": 1},
   "encoding": {"color": {"field": "g", "type": "nominal", "legend": null}, "shape": {"field": "g", "type": "nominal", "legend": null}}}
 ]},
{"width": 191, "height": 191, "data": {"name": "d"},
 "resolve": {"legend": {"color": "independent", "shape": "independent", "stroke": "independent"}},
 "encoding": {
  "x": {"field": "t", "type": "quantitative", "scale": {"domain": [-0.96, 24.96], "nice": false, "zero": false}, "axis": {"values": [0, 5, 10, 15, 20], "title": null, "offset": 3, "tickSize": 5, "labelPadding": 3, "domain": false, "grid": false, "labelFlush": false, "labelOverlap": false}},
  "y": {"field": "v", "type": "quantitative", "scale": {"type": "log", "domain": [0.3, 11.6], "nice": false}, "axis": {"values": [0.5, 1, 2, 5, 10], "format": ".1f", "title": null, "offset": 3, "tickSize": 5, "labelPadding": 4, "domain": false, "grid": false, "labelAngle": 270, "labelAlign": "center", "labelBaseline": "bottom", "labelOverlap": false, "labelFlush": false}}},
 "layer": [
  {"data": {"values": [{}]}, "mark": {"type": "rule", "strokeDash": [2, 2], "strokeWidth": 1}, "encoding": {"x": {"datum": -0.96}, "x2": {"datum": 24.96}, "y": {"datum": 1}, "color": {"value": "#aaaaaa"}}},
  {"transform": [{"filter": "datum.p==7"}], "mark": {"type": "line", "strokeDash": [1.5, 2], "strokeWidth": 1.2},
   "encoding": {"color": {"field": "g", "type": "nominal", "scale": {"domain": ["PtaEB1B","PtaSKOR"], "range": ["#F7981D","#7DC142"]}, "legend": null}}},
  {"transform": [{"filter": "datum.p==7"}], "mark": {"type": "point", "size": 44, "strokeWidth": 1.1, "opacity": 1},
   "encoding": {"fill": {"value": "transparent"},
    "stroke": {"field": "g", "type": "nominal", "title": null, "scale": {"domain": ["PtaEB1B","PtaSKOR"], "range": ["#F7981D","#7DC142"]}, "legend": {"encode": {"labels": {"update": {"fill": {"signal": "gc[datum.value]"}}}}}},
    "shape": {"field": "g", "type": "nominal", "title": null, "scale": {"domain": ["PtaEB1B","PtaSKOR"], "range": ["circle","circle"]}, "legend": {"encode": {"labels": {"update": {"fill": {"signal": "gc[datum.value]"}}}}}}}},
  {"transform": [{"filter": "datum.p==7 && datum.s==1"}], "mark": {"type": "point", "filled": true, "size": 64, "opacity": 1},
   "encoding": {"color": {"field": "g", "type": "nominal", "legend": null}, "shape": {"field": "g", "type": "nominal", "legend": null}}}
 ]},
{"width": 191, "height": 191, "data": {"name": "d"},
 "resolve": {"legend": {"color": "independent", "shape": "independent", "stroke": "independent"}},
 "encoding": {
  "x": {"field": "t", "type": "quantitative", "scale": {"domain": [-0.96, 24.96], "nice": false, "zero": false}, "axis": {"values": [0, 5, 10, 15, 20], "title": null, "offset": 3, "tickSize": 5, "labelPadding": 3, "domain": false, "grid": false, "labelFlush": false, "labelOverlap": false}},
  "y": {"field": "v", "type": "quantitative", "scale": {"type": "log", "domain": [0.3, 11.6], "nice": false}, "axis": {"values": [0.5, 1, 2, 5, 10], "format": ".1f", "title": null, "offset": 3, "tickSize": 5, "labelPadding": 4, "domain": false, "grid": false, "labelAngle": 270, "labelAlign": "center", "labelBaseline": "bottom", "labelOverlap": false, "labelFlush": false}}},
 "layer": [
  {"data": {"values": [{}]}, "mark": {"type": "rule", "strokeDash": [2, 2], "strokeWidth": 1}, "encoding": {"x": {"datum": -0.96}, "x2": {"datum": 24.96}, "y": {"datum": 1}, "color": {"value": "#aaaaaa"}}},
  {"transform": [{"filter": "datum.p==8"}], "mark": {"type": "line", "strokeDash": [1.5, 2], "strokeWidth": 1.2},
   "encoding": {"color": {"field": "g", "type": "nominal", "scale": {"domain": ["PtaMYB69","PtaMYB46","PtaLAC4","PtaU2AF35B","PtaDVL16"], "range": ["#F7981D","#F7981D","#7DC142","#1CADE9","#1CADE9"]}, "legend": null}}},
  {"transform": [{"filter": "datum.p==8"}], "mark": {"type": "point", "size": 44, "strokeWidth": 1.1, "opacity": 1},
   "encoding": {"fill": {"value": "transparent"},
    "stroke": {"field": "g", "type": "nominal", "title": null, "scale": {"domain": ["PtaMYB69","PtaMYB46","PtaLAC4","PtaU2AF35B","PtaDVL16"], "range": ["#F7981D","#F7981D","#7DC142","#1CADE9","#1CADE9"]}, "legend": {"encode": {"labels": {"update": {"fill": {"signal": "gc[datum.value]"}}}}}},
    "shape": {"field": "g", "type": "nominal", "title": null, "scale": {"domain": ["PtaMYB69","PtaMYB46","PtaLAC4","PtaU2AF35B","PtaDVL16"], "range": ["circle","triangle-up","circle","circle","triangle-up"]}, "legend": {"encode": {"labels": {"update": {"fill": {"signal": "gc[datum.value]"}}}}}}}},
  {"transform": [{"filter": "datum.p==8 && datum.s==1"}], "mark": {"type": "point", "filled": true, "size": 64, "opacity": 1},
   "encoding": {"color": {"field": "g", "type": "nominal", "legend": null}, "shape": {"field": "g", "type": "nominal", "legend": null}}}
 ]},
{"width": 191, "height": 191, "data": {"name": "d"},
 "resolve": {"legend": {"color": "independent", "shape": "independent", "stroke": "independent"}},
 "encoding": {
  "x": {"field": "t", "type": "quantitative", "scale": {"domain": [-0.96, 24.96], "nice": false, "zero": false}, "axis": {"values": [0, 5, 10, 15, 20], "title": null, "offset": 3, "tickSize": 5, "labelPadding": 3, "domain": false, "grid": false, "labelFlush": false, "labelOverlap": false}},
  "y": {"field": "v", "type": "quantitative", "scale": {"type": "log", "domain": [0.3, 11.6], "nice": false}, "axis": {"values": [0.5, 1, 2, 5, 10], "format": ".1f", "title": null, "offset": 3, "tickSize": 5, "labelPadding": 4, "domain": false, "grid": false, "labelAngle": 270, "labelAlign": "center", "labelBaseline": "bottom", "labelOverlap": false, "labelFlush": false}}},
 "layer": [
  {"data": {"values": [{}]}, "mark": {"type": "rule", "strokeDash": [2, 2], "strokeWidth": 1}, "encoding": {"x": {"datum": -0.96}, "x2": {"datum": 24.96}, "y": {"datum": 1}, "color": {"value": "#aaaaaa"}}},
  {"transform": [{"filter": "datum.p==9"}], "mark": {"type": "line", "strokeDash": [1.5, 2], "strokeWidth": 1.2},
   "encoding": {"color": {"field": "g", "type": "nominal", "scale": {"domain": ["PtaCESTA","PtaIAA8"], "range": ["#F7981D","#7DC142"]}, "legend": null}}},
  {"transform": [{"filter": "datum.p==9"}], "mark": {"type": "point", "size": 44, "strokeWidth": 1.1, "opacity": 1},
   "encoding": {"fill": {"value": "transparent"},
    "stroke": {"field": "g", "type": "nominal", "title": null, "scale": {"domain": ["PtaCESTA","PtaIAA8"], "range": ["#F7981D","#7DC142"]}, "legend": {"encode": {"labels": {"update": {"fill": {"signal": "gc[datum.value]"}}}}}},
    "shape": {"field": "g", "type": "nominal", "title": null, "scale": {"domain": ["PtaCESTA","PtaIAA8"], "range": ["circle","circle"]}, "legend": {"encode": {"labels": {"update": {"fill": {"signal": "gc[datum.value]"}}}}}}}},
  {"transform": [{"filter": "datum.p==9 && datum.s==1"}], "mark": {"type": "point", "filled": true, "size": 64, "opacity": 1},
   "encoding": {"color": {"field": "g", "type": "nominal", "legend": null}, "shape": {"field": "g", "type": "nominal", "legend": null}}}
 ]}
 ]},
{"width": 631, "height": 1, "data": {"values": [{"k": 0}]}, "mark": {"type": "point", "opacity": 0},
 "encoding": {
  "x": {"field": "k", "type": "quantitative", "scale": {"domain": [0, 1]}, "axis": {"title": "Time after bending (in hour)", "domain": true, "domainColor": "#222", "domainWidth": 1.6, "ticks": false, "labels": false, "grid": false, "titleFont": "DejaVu Sans", "titleFontSize": 18, "titleFontWeight": "normal", "titleColor": "#111", "titlePadding": 3}},
  "y": {"field": "k", "type": "quantitative", "scale": {"domain": [0, 1]}, "axis": {"title": null, "domain": false, "ticks": false, "labels": false, "grid": false, "minExtent": 20, "maxExtent": 20}}},
 "view": {"stroke": null}}
]}
]
}
